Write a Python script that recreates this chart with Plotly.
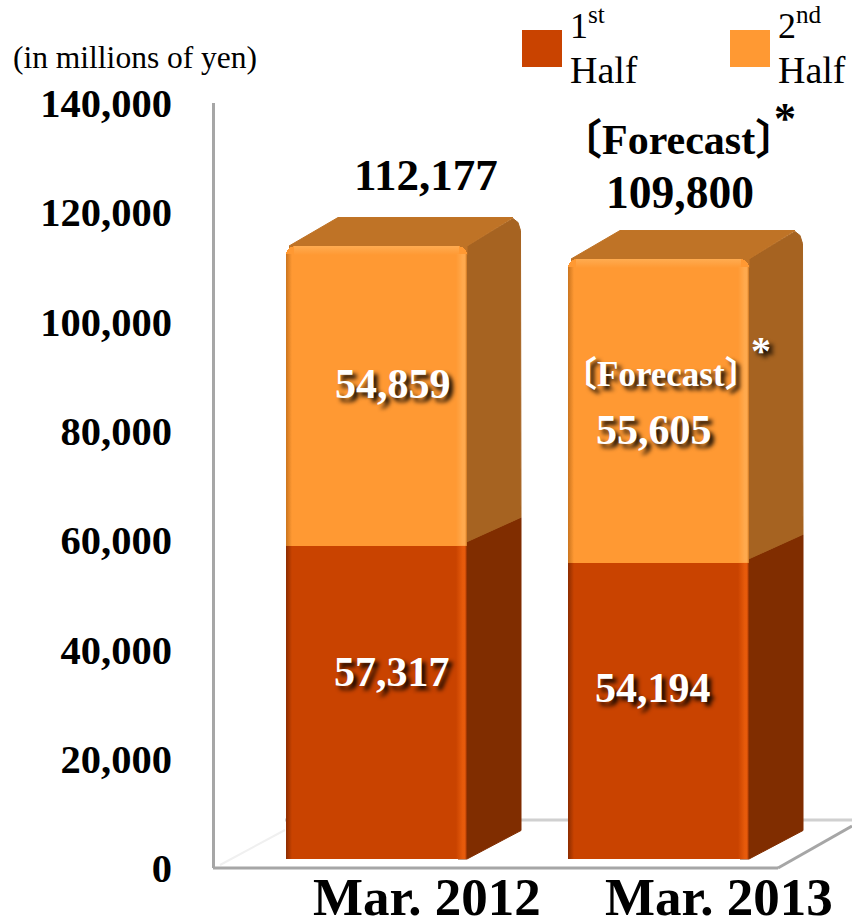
import plotly.graph_objects as go

# Net sales by half year, in millions of yen
years = ["Mar. 2012", "Mar. 2013"]
first_half = [57317, 54194]
second_half = [54859, 55605]
totals = [112177, 109800]
y_ticks = [0, 20000, 40000, 60000, 80000, 100000, 120000, 140000]

W, H = 852, 917
SERIF = "Liberation Serif, Noto Sans CJK JP, serif"
PX_PER_UNIT = 765 / 140000   # vertical scale shared by both y axes
PX_PER_CAT = 282             # horizontal distance between the two columns
BAR_W = 181 / PX_PER_CAT
DEPTH_X = 54 / PX_PER_CAT    # oblique depth of the columns
DEPTH_Y = 28.5 / PX_PER_UNIT
LIFT = 9 / PX_PER_UNIT       # columns stand this far behind the front wall edge

ORANGE_1, ORANGE_2 = "#C94300", "#FF9933"
SIDE_1, SIDE_2 = "#802D00", "#A66321"
TOP_2 = "#BF7326"

fig = go.Figure()


def polygon(xs, ys, color, yaxis="y"):
    fig.add_trace(go.Scatter(x=xs, y=ys, mode="lines", fill="toself", fillcolor=color,
                             line=dict(width=1, color=color), yaxis=yaxis, hoverinfo="skip",
                             showlegend=False))


def strip(x0, x1, y0, y1, stops, kind):
    fig.add_trace(go.Scatter(x=[x0, x1, x1, x0, x0], y=[y0, y0, y1, y1, y0], mode="lines",
                             fill="toself", line=dict(width=0), yaxis="y2",
                             fillgradient=dict(type=kind, colorscale=stops),
                             hoverinfo="skip", showlegend=False))


# Side and top faces sit in the lower subplot, so the fronts cover their inner corners
ux, uy = 1 / PX_PER_CAT, 1 / PX_PER_UNIT
for i in range(len(years)):
    left, right = i - BAR_W / 2, i + BAR_W / 2
    mid = first_half[i] + LIFT
    top = totals[i] + LIFT
    base = LIFT
    polygon([right - 9 * ux, right, right + DEPTH_X, right + DEPTH_X, right - 9 * ux],
            [base, base, base + DEPTH_Y, mid + DEPTH_Y, mid], SIDE_1)
    polygon([right - 9 * ux, right + DEPTH_X, right + DEPTH_X - 0.5 * ux,
             right + DEPTH_X - 3 * ux, right + DEPTH_X - 8 * ux, right, right - 9 * ux],
            [mid, mid + DEPTH_Y, top + DEPTH_Y - 13 * uy, top + DEPTH_Y - 5 * uy,
             top + DEPTH_Y - 1 * uy, top, top - 9 * uy], SIDE_2)
    polygon([left + 3 * ux, left + DEPTH_X - 2 * ux, right + DEPTH_X - 8 * ux, right, right, left + 3 * ux],
            [top, top + DEPTH_Y, top + DEPTH_Y, top, top - 9 * uy, top - 9 * uy], TOP_2)

# Column fronts
fig.add_trace(go.Bar(x=[0, 1], y=first_half, width=BAR_W, marker=dict(color=ORANGE_1, line_width=0),
                     yaxis="y2", showlegend=False, hoverinfo="skip"))
fig.add_trace(go.Bar(x=[0, 1], y=second_half, width=BAR_W, marker=dict(color=ORANGE_2, line_width=0),
                     yaxis="y2", showlegend=False, hoverinfo="skip"))

# Bevel shading along the column edges
for i in range(len(years)):
    left, right = i - BAR_W / 2, i + BAR_W / 2
    low, high = first_half[i], totals[i]
    for y0, y1, hi, lo in [(0, low, "rgba(255,110,20,0.55)", "rgba(90,25,0,0.55)"),
                           (low, high - 8 * uy, "rgba(255,190,110,0.45)", "rgba(150,80,10,0.5)")]:
        strip(left, left + 6 * ux, y0, y1,
              [[0, lo], [1, lo.rsplit(",", 1)[0] + ",0)"]], "horizontal")
        strip(right - 11 * ux, right - 2 * ux, y0, y1,
              [[0, hi.rsplit(",", 1)[0] + ",0)"], [0.75, hi], [1, hi]], "horizontal")
        strip(right - 2 * ux, right, y0, y1, [[0, hi], [1, lo]], "horizontal")
    strip(left + 8 * ux, right - 8 * ux, high - 9 * uy, high,
          [[0, "rgba(255,190,110,0)"], [1, "rgba(255,190,110,0.5)"]], "vertical")


def note(text, x, y, size, color="black", shadow=None, xref="paper", yref="paper", **kw):
    font = dict(family=SERIF, size=size, color=color)
    if shadow:
        font["shadow"] = shadow
    fig.add_annotation(text=text, x=x, y=y, xref=xref, yref=yref, showarrow=False,
                       xanchor=kw.pop("xanchor", "center"), yanchor="middle", font=font, **kw)


def px(x):
    return x / W


def py(y):
    return 1 - y / H


SHADOW = "4px 4px 4px rgba(0,0,0,0.9)"

# Category labels and totals follow the column positions
for i, (label, dx) in enumerate(zip(years, [50, 60])):
    note(f"<b>{label}</b>", i, py(897), 53, xref="x", xshift=dx)
note(f"<b>{totals[0]:,}</b>", 0, totals[0], 45, xref="x", yref="y2", xshift=49, yshift=71)
note(f"<b>{totals[1]:,}</b>", 1, totals[1], 45.5, xref="x", yref="y2", xshift=21, yshift=67)
note("<b>〔Forecast〕</b>", px(678), py(140), 42)
note("<b>*</b>", px(785), py(118), 44)

# Values printed on the column fronts
for i, (dx, dy) in enumerate([(15, 30), (-6, 23)]):
    note(f"<b>{first_half[i]:,}</b>", i, first_half[i] / 2, 42, "white", SHADOW, xref="x", yref="y2",
         xshift=dx, yshift=dy)
for i, (dx, dy) in enumerate([(16, 12), (-5, -19)]):
    note(f"<b>{second_half[i]:,}</b>", i, first_half[i] + second_half[i] / 2, 42, "white", SHADOW,
         xref="x", yref="y2", xshift=dx, yshift=dy)
note("<b>〔Forecast〕</b>", px(661), py(374), 35, "white", SHADOW)
note("<b>*</b>", px(761), py(351), 40, "white", SHADOW)

note("(in millions of yen)", px(135), py(58), 31.5)

# Hand-built legend with two-line entries
shapes = []
for x0, color, label in [(522, ORANGE_1, "1<sup>st</sup>"), (730, ORANGE_2, "2<sup>nd</sup>")]:
    shapes.append(dict(type="rect", xref="paper", yref="paper", x0=px(x0), x1=px(x0 + 40),
                       y0=py(67), y1=py(30), fillcolor=color, line_width=0, layer="below"))
    note(label, px(x0 + 46), py(24), 36, xanchor="left")
    note("Half", px(x0 + 46), py(70), 38, xanchor="left")

# Floor outline, with the front edge stopping where the oblique edge starts
for (x0, y0, x1, y1, color, width) in [(213, 868, 778, 868, "#A6A6A6", 3),
                                       (778, 868, 852, 826, "#A6A6A6", 3),
                                       (285, 820, 852, 820, "#D0D0D0", 3),
                                       (220, 865, 285, 830, "#F0F0F0", 2)]:
    shapes.append(dict(type="line", xref="paper", yref="paper", x0=px(x0), x1=px(x1),
                       y0=py(y0), y1=py(y1), line=dict(color=color, width=width), layer="below"))

x_range = [(215 - 376.5) / PX_PER_CAT, (852 - 376.5) / PX_PER_CAT]
fig.update_layout(
    width=W, height=H, margin=dict(l=0, r=0, t=0, b=0, autoexpand=False),
    paper_bgcolor="white", plot_bgcolor="rgba(0,0,0,0)",
    barmode="stack", barcornerradius=9, shapes=shapes,
    xaxis=dict(domain=[215 / W, 1], range=x_range, showgrid=False, zeroline=False,
               showline=False, showticklabels=False, ticks=""),
    yaxis=dict(domain=[py(868), py(103)], range=[0, 140000], tickvals=y_ticks, tickformat=",",
               showgrid=False, zeroline=False, showline=True, linecolor="#A6A6A6", linewidth=3,
               ticks="", ticklabelstandoff=32,
               tickfont=dict(family=SERIF, size=40.5, color="black", weight="bold")),
    yaxis2=dict(domain=[py(859), py(94)], range=[0, 140000], anchor="x", visible=False),
)

fig.write_html("out.html")
